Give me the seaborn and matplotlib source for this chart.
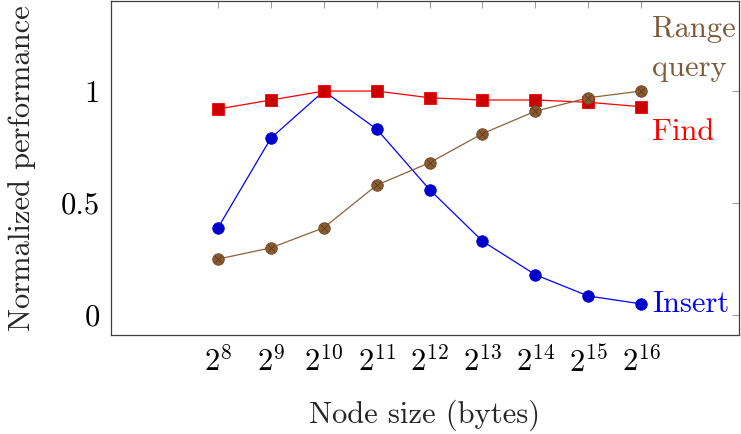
import numpy as np
import pandas as pd
import matplotlib
matplotlib.use("Agg")
import matplotlib.pyplot as plt
import seaborn as sns

# ---- data ----
exponents = [8, 9, 10, 11, 12, 13, 14, 15, 16]
node_sizes = [2 ** e for e in exponents]
insert_vals = [0.39, 0.79, 1.00, 0.83, 0.56, 0.33, 0.18, 0.085, 0.05]
find_vals = [0.92, 0.96, 1.00, 1.00, 0.97, 0.96, 0.96, 0.95, 0.93]
range_vals = [0.25, 0.30, 0.39, 0.58, 0.68, 0.81, 0.91, 0.97, 1.00]
x_tick_labels = [f"$2^{{{e}}}$" for e in exponents]
y_ticks = [0, 0.5, 1]
y_tick_labels = ["0", "0.5", "1"]

sns.set_style("white")
plt.rcParams["font.family"] = ["cmr10", "DejaVu Serif"]
plt.rcParams["mathtext.fontset"] = "cm"
plt.rcParams["axes.formatter.use_mathtext"] = True

W, H = 741, 434
fig = plt.figure(figsize=(W / 100, H / 100), dpi=100)
ax = fig.add_axes([111 / W, (H - 335) / H, (739 - 111) / W, (335 - 1) / H])

FS = 22
blue_line, blue_mark = "#0000ff", "#0000cc"
red_line, red_mark = "#ff0000", "#cc0000"
brown_line, brown_mark, brown_text = "#8c6239", "#8a5c30", "#7f5a36"

sns.lineplot(x=node_sizes, y=insert_vals, ax=ax, color=blue_line, lw=0.9,
             marker="o", markersize=8.3, markerfacecolor=blue_mark,
             markeredgecolor=blue_mark, markeredgewidth=0.6)
sns.lineplot(x=node_sizes, y=find_vals, ax=ax, color=red_line, lw=0.9,
             marker="s", markersize=8, markerfacecolor=red_mark,
             markeredgecolor=red_line, markeredgewidth=0.6)
sns.lineplot(x=node_sizes, y=range_vals, ax=ax, color=brown_line, lw=0.9,
             marker="o", markersize=8.3, markerfacecolor=brown_mark,
             markeredgecolor="#6b4524", markeredgewidth=0.6)
sns.scatterplot(x=node_sizes, y=range_vals, ax=ax, marker="x", s=22,
                color="#5a3a1c", linewidth=0.6, zorder=5)

ax.set_xscale("log", base=2)
ax.set_xlim(2 ** 5.976, 2 ** 17.85)
ax.set_ylim(-0.089, 1.402)
ax.set_xticks(node_sizes)
ax.set_xticklabels(x_tick_labels, fontsize=FS)
ax.xaxis.set_minor_locator(matplotlib.ticker.NullLocator())
ax.set_yticks(y_ticks)
ax.set_yticklabels(y_tick_labels, fontsize=FS)

ax.tick_params(axis="both", which="major", direction="in", length=5,
               width=0.8, color="#a0a0a0", top=True, right=True,
               labelcolor="black", pad=8)
for s in ax.spines.values():
    s.set_color("#404040")
    s.set_linewidth(0.9)

ax.set_xlabel("Node size (bytes)", fontsize=FS, labelpad=15)
ax.set_ylabel("Normalized performance", fontsize=FS, labelpad=18)

ax.annotate("Insert", xy=(node_sizes[-1], insert_vals[-1]), xytext=(11, 0),
            textcoords="offset pixels", color=blue_line, fontsize=FS,
            va="center", ha="left")
ax.annotate("Find", xy=(node_sizes[-1], find_vals[-1]), xytext=(11, -12),
            textcoords="offset pixels", color=red_line, fontsize=FS,
            va="top", ha="left")
ax.annotate("Range\nquery", xy=(node_sizes[-1], range_vals[-1]), xytext=(11, 9),
            textcoords="offset pixels", color=brown_text, fontsize=FS,
            va="bottom", ha="left", linespacing=1.55)

fig.savefig("out.png", dpi=100)
